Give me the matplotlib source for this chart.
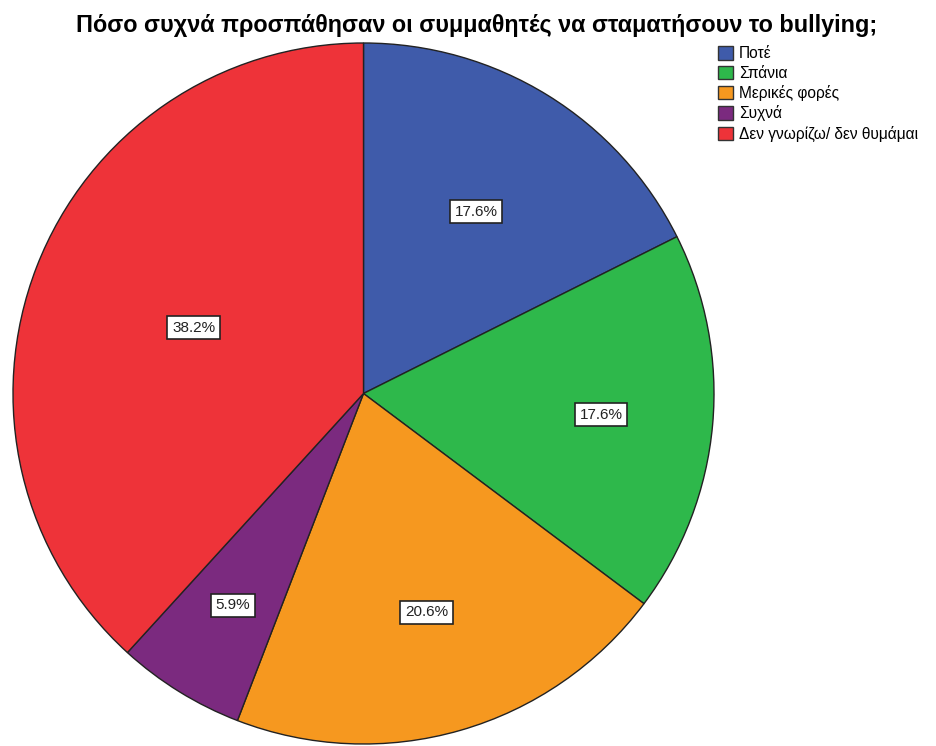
import matplotlib.pyplot as plt
import numpy as np
from matplotlib.patches import Patch

plt.rcParams['font.family'] = ['Liberation Sans', 'DejaVu Sans']

title = 'Πόσο συχνά προσπάθησαν οι συμμαθητές να σταματήσουν το bullying;'
categories = ['Ποτέ', 'Σπάνια', 'Μερικές φορές', 'Συχνά', 'Δεν γνωρίζω/ δεν θυμάμαι']
percents = [17.6, 17.6, 20.6, 5.9, 38.2]
colors = ['#3F5BAA', '#2EB84B', '#F6981F', '#7B2A7F', '#EE3339']
# radial position of each percent box, as a fraction of the radius
label_radius = [0.61, 0.68, 0.65, 0.71, 0.52]

fig = plt.figure(figsize=(9.37, 7.46), dpi=100)
ax = fig.add_axes([13 / 937, 2 / 746, 701 / 937, 701 / 746])

wedges, _ = ax.pie(percents, colors=colors, startangle=90, counterclock=False,
                   wedgeprops=dict(edgecolor='#222222', linewidth=1.0))

for w, pct, r in zip(wedges, percents, label_radius):
    ang = np.deg2rad((w.theta1 + w.theta2) / 2)
    ax.text(r * np.cos(ang), r * np.sin(ang), f'{pct:.1f}%', ha='center', va='center',
            fontsize=11, color='#222222',
            bbox=dict(boxstyle='square,pad=0.3', facecolor='white', edgecolor='#222222', linewidth=1.2))

ax.set_xlim(-1, 1)
ax.set_ylim(-1, 1)
ax.set_aspect('equal')
ax.axis('off')

fig.text(0.509, 0.966, title, ha='center', va='center', fontsize=16.8, fontweight='bold')

handles = [Patch(facecolor=c, edgecolor='#333333', linewidth=1.0) for c in colors]
fig.legend(handles, categories, loc='upper left', bbox_to_anchor=(0.766, 0.938),
           frameon=False, fontsize=11.2, handlelength=0.95, handleheight=0.95,
           handletextpad=0.4, labelspacing=0.28, borderpad=0, borderaxespad=0)

fig.savefig('out.png', dpi=100, facecolor='white')
